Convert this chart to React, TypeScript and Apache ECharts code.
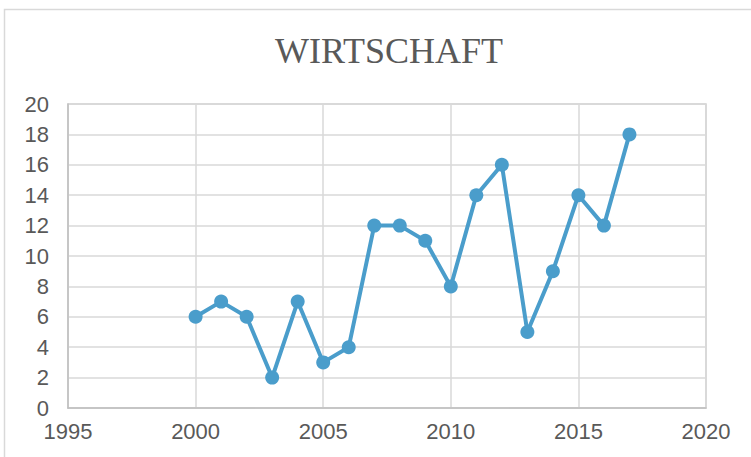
import React, { useEffect, useRef } from "react";
import * as echarts from "echarts";

const years = [2000, 2001, 2002, 2003, 2004, 2005, 2006, 2007, 2008, 2009, 2010, 2011, 2012, 2013, 2014, 2015, 2016, 2017];
const values = [6, 7, 6, 2, 7, 3, 4, 12, 12, 11, 8, 14, 16, 5, 9, 14, 12, 18];
const title = "WIRTSCHAFT";

export default function App() {
  const ref = useRef<HTMLDivElement>(null);
  useEffect(() => {
    const chart = echarts.init(ref.current!, null, { renderer: "svg" });
    chart.setOption({
      animation: false,
      backgroundColor: "#ffffff",
      title: {
        text: title,
        left: 384,
        top: 28,
        textAlign: "center",
        textStyle: { fontFamily: "Liberation Serif", fontSize: 36, fontWeight: "normal", color: "#595959" },
      },
      graphic: [
        {
          type: "rect",
          shape: { x: 4.5, y: 9.5, width: 800, height: 500 },
          style: { fill: "none", stroke: "#d9d9d9", lineWidth: 1.5 },
          z: -1,
        },
      ],
      grid: { left: 68, right: 45, top: 104, bottom: 49, show: true, borderColor: "#cfcfcf", borderWidth: 1.5 },
      xAxis: {
        type: "value",
        min: 1995,
        max: 2020,
        interval: 5,
        axisLine: { show: true, lineStyle: { color: "#bfbfbf", width: 1.5 } },
        axisTick: { show: false },
        splitLine: { show: true, lineStyle: { color: "#d9d9d9", width: 1.5 } },
        axisLabel: { color: "#595959", fontSize: 22, fontFamily: "Liberation Sans", margin: 12, formatter: (v: number) => String(v) },
      },
      yAxis: {
        type: "value",
        min: 0,
        max: 20,
        interval: 2,
        axisLine: { show: true, lineStyle: { color: "#bfbfbf", width: 1.5 } },
        axisTick: { show: false },
        splitLine: { show: true, lineStyle: { color: "#d9d9d9", width: 1.5 } },
        axisLabel: { color: "#595959", fontSize: 22, fontFamily: "Liberation Sans", margin: 19 },
      },
      series: [
        {
          type: "line",
          data: years.map((y, i) => [y, values[i]]),
          symbol: "circle",
          symbolSize: 14,
          lineStyle: { color: "#4A9DCB", width: 4 },
          itemStyle: { color: "#4A9DCB" },
        },
      ],
    });
    return () => chart.dispose();
  }, []);
  return <div ref={ref} style={{ position: "absolute", left: 0, top: 0, width: 751, height: 457 }} />;
}
